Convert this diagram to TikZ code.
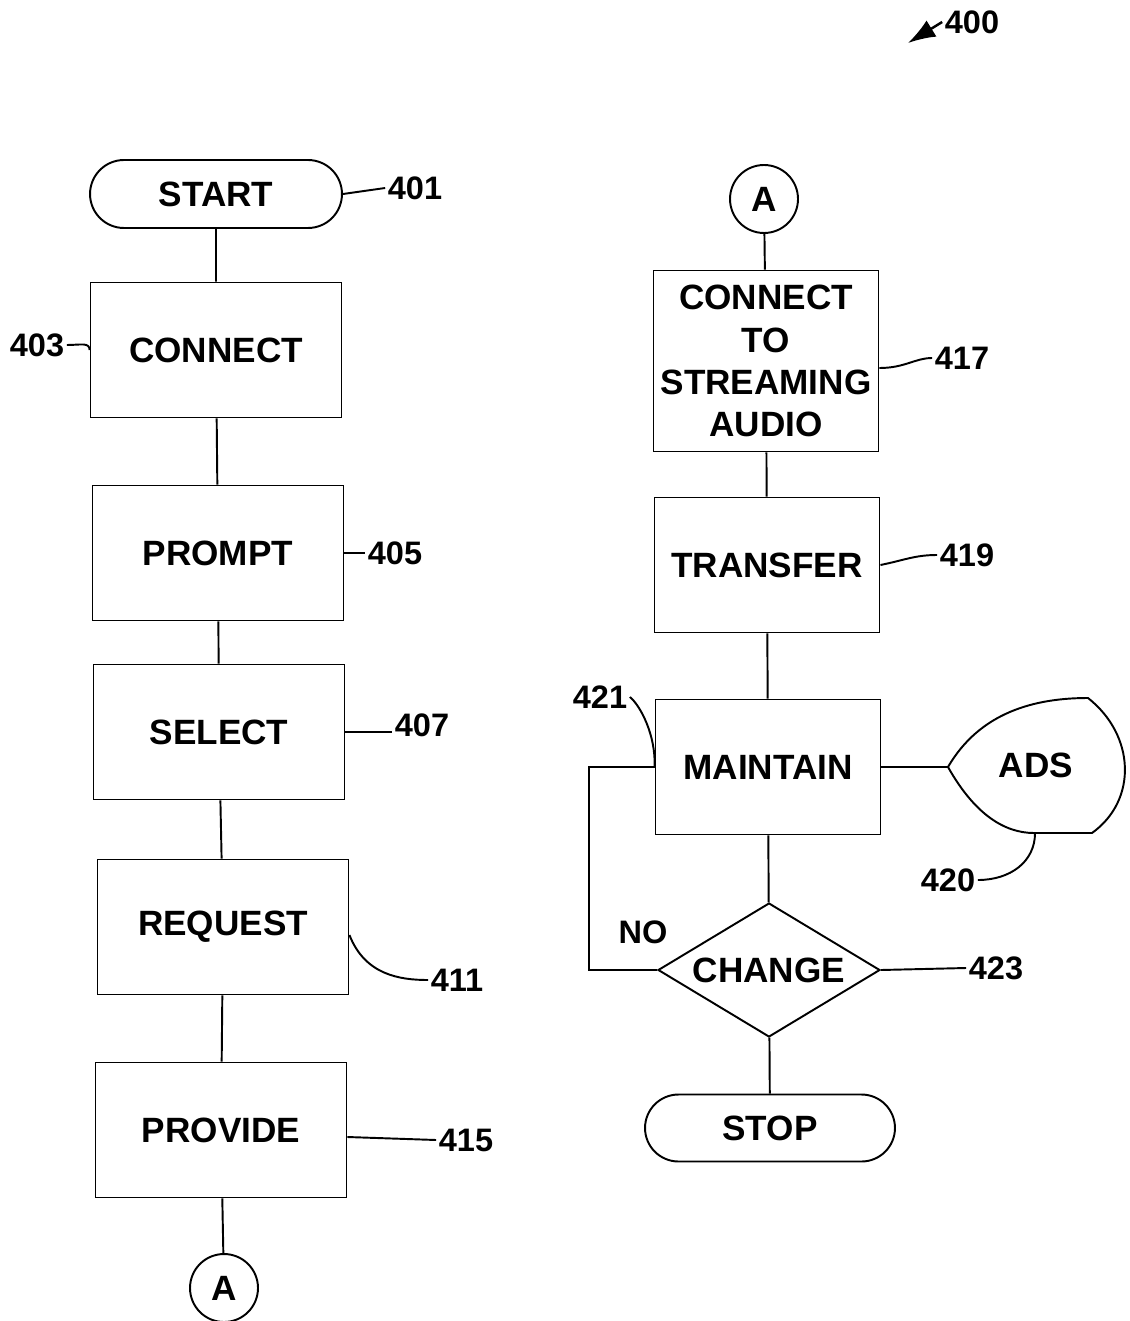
\documentclass[tikz,border=0pt]{standalone}
\usepackage{fontspec}
\setmainfont{Liberation Sans}
\usetikzlibrary{shapes,arrows,positioning,calc,arrows.meta}

\begin{document}
\begin{tikzpicture}[x=0.02cm,y=-0.02cm,line width=1.1pt,
    every node/.style={font=\fontsize{20}{24}\selectfont\bfseries},
    proc/.style={draw,rectangle,minimum width=5.02cm,minimum height=2.7cm,align=center,inner sep=0pt},
    term/.style={draw,rounded rectangle,minimum width=5.04cm,minimum height=1.36cm,inner sep=0pt},
    conn/.style={draw,circle,minimum size=1.36cm,inner sep=0pt},
    decide/.style={draw,diamond,minimum width=4.44cm,minimum height=2.68cm,inner sep=0pt},
    tag/.style={font=\fontsize{18.5}{22}\selectfont\bfseries,inner sep=1pt}]
    \useasboundingbox (0,0) rectangle (1129,1321);

    % left column
    \node[term] (start) at (216,194) {START};
    \node[proc] (connect) at (216,350) {CONNECT};
    \node[proc] (prompt) at (218,553) {PROMPT};
    \node[proc] (select) at (219,732) {SELECT};
    \node[proc] (request) at (223,927) {REQUEST};
    \node[proc] (provide) at (221,1130) {PROVIDE};
    \node[conn] (abot) at (224,1288) {A};

    \draw (start) -- (connect);
    \draw (connect) -- (prompt);
    \draw (prompt) -- (select);
    \draw (select) -- (request);
    \draw (request) -- (provide);
    \draw (provide) -- (abot);

    % right column
    \node[conn] (atop) at (764,199) {A};
    \node[proc,minimum width=4.5cm,minimum height=3.62cm] (stream) at (766,361) {CONNECT\\TO\\STREAMING\\AUDIO};
    \node[proc,minimum width=4.5cm] (transfer) at (767,565) {TRANSFER};
    \node[proc,minimum width=4.5cm] (maintain) at (768,767) {MAINTAIN};
    \node[decide,label={center:CHANGE}] (change) at (769,970) {};
    \node[term,minimum width=5cm,minimum height=1.34cm] (stop) at (770,1128) {STOP};

    \draw (atop) -- (stream);
    \draw (stream) -- (transfer);
    \draw (transfer) -- (maintain);
    \draw (maintain) -- (change);
    \draw (change) -- (stop);
    \draw (change.west) -- ++(-68,0) |- (maintain.west);
    \node[tag] (lno) at (643,932) {NO};

    % ads display
    \node (ads) at (1036,765) {ADS};
    \coordinate (adstip) at (948,767);
    \coordinate (adsbot) at (1035,833);
    \draw (adstip) .. controls (980,712) and (1035,698) .. (1088,698)
        .. controls (1135,735) and (1138,800) .. (1092,833) -- (1034,833)
        .. controls (1005,833) and (975,815) .. cycle;
    \draw (maintain.east) -- (adstip);

    % reference numerals
    \node[tag] (l400) at (972,22) {400};
    \coordinate (p400) at (908,43);
    \draw[line width=1.4pt,-{Latex[length=0.55cm,width=0.38cm]}] (l400.west) -- (p400);
    \node[tag] (l401) at (415,188) {401};
    \draw (start.east) -- (l401.west);
    \node[tag] (l403) at (37,345) {403};
    \draw (l403.east) .. controls +(14,0) and +(0,-8) .. (connect.west);
    \node[tag] (l405) at (395,553) {405};
    \draw (prompt.east) -- (l405.west);
    \node[tag] (l407) at (422,725) {407};
    \draw (select.east) -- (select.east -| l407.west);
    \node[tag] (l411) at (457,980) {411};
    \draw ($(request.east)+(0,8)$) .. controls (365,975) and (400,980) .. (l411.west);
    \node[tag] (l415) at (466,1140) {415};
    \draw ($(provide.east)+(0,7)$) -- (l415.west);
    \node[tag] (l417) at (962,358) {417};
    \draw ($(stream.east)+(0,7)$) .. controls (905,368) and (915,358) .. (l417.west);
    \node[tag] (l419) at (967,555) {419};
    \draw (transfer.east) .. controls (905,560) and (915,555) .. (l419.west);
    \node[tag] (l421) at (600,697) {421};
    \draw (l421.east) .. controls (640,705) and (656,735) .. (maintain.west);
    \node[tag] (l420) at (948,880) {420};
    \draw (l420.east) .. controls (1010,880) and (1035,862) .. (adsbot);
    \node[tag] (l423) at (996,968) {423};
    \draw (change.east) -- (l423.west);
\end{tikzpicture}
\end{document}
